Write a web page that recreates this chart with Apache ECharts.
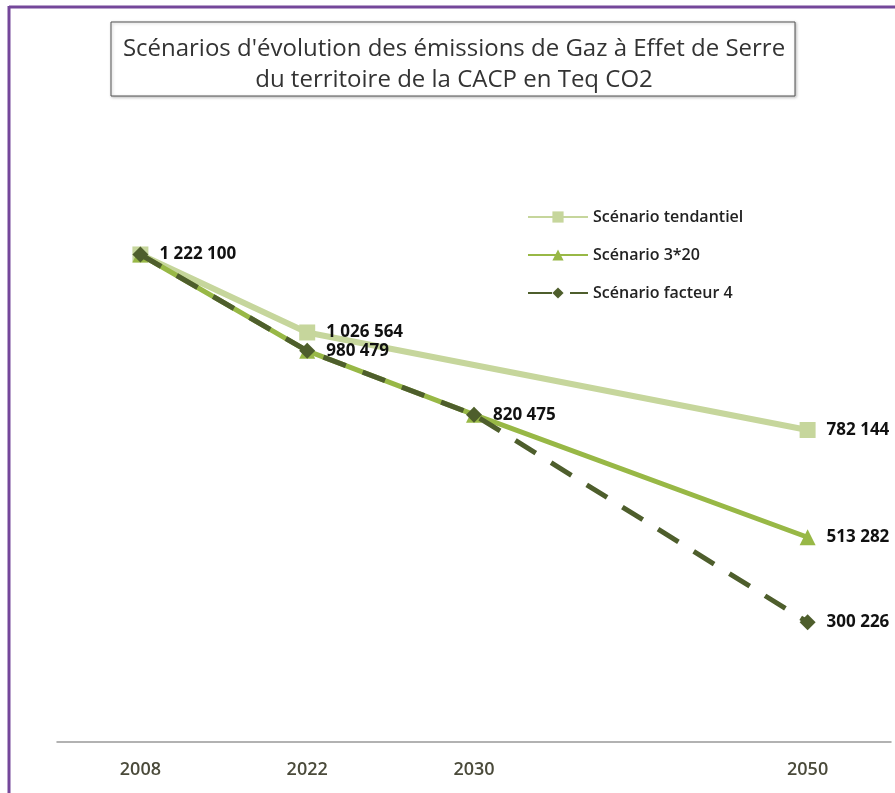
<!DOCTYPE html>
<html>
<head>
<meta charset="utf-8">
<script src="https://cdn.jsdelivr.net/npm/echarts@6/dist/echarts.min.js"></script>
<style>
html,body{margin:0;padding:0;background:#fff;}
#chart{width:895px;height:793px;}
</style>
</head>
<body>
<div id="chart"></div>
<script>
const categories = ['2008', '2022', '2030', '', '2050'];
const tendantiel = [1222100, 1026564, null, null, 782144];
const scenario320 = [1222100, 980479, 820475, null, 513282];
const facteur4 = [1222100, 980479, 820475, null, 300226];
const seriesNames = ['Scénario tendantiel', 'Scénario 3*20', 'Scénario facteur 4'];
const titleLines = ["Scénarios d'évolution des émissions de Gaz à Effet de Serre", 'du territoire de la CACP en Teq CO2'];
// which points carry a value label
const labelIdx = [[1, 4], [0, 1, 2, 4], [4]];

function fmt(v) {
  return String(v).replace(/\B(?=(\d{3})+(?!\d))/g, ' ');
}
function build(values, idx) {
  return values.map((v, i) => ({ value: v, label: { show: idx.indexOf(i) >= 0 && v != null } }));
}

const chart = echarts.init(document.getElementById('chart'));
const labelStyle = {
  position: 'right', distance: 11, color: '#111', fontFamily: 'Open Sans',
  fontWeight: 'bold', fontSize: 17, formatter: p => fmt(p.value)
};
chart.setOption({
  backgroundColor: '#ffffff',
  animation: false,
  graphic: [
    { type: 'line', shape: { x1: 9, y1: 7, x2: 895, y2: 7 }, style: { stroke: '#74479a', lineWidth: 3 } },
    { type: 'line', shape: { x1: 9, y1: 6, x2: 9, y2: 793 }, style: { stroke: '#74479a', lineWidth: 3 } },
    { type: 'rect', shape: { x: 111, y: 22, width: 684, height: 74 },
      style: { fill: '#fff', stroke: '#555', lineWidth: 1, shadowBlur: 3, shadowColor: 'rgba(0,0,0,0.25)', shadowOffsetX: 1, shadowOffsetY: 1 } }
  ],
  title: {
    text: titleLines.join('\n'),
    left: 449, top: 29, textAlign: 'center',
    textStyle: { fontFamily: 'Open Sans', fontWeight: 'normal', fontSize: 24, color: '#333', lineHeight: 31 }
  },
  legend: {
    orient: 'vertical', left: 522, top: 204, itemWidth: 60, itemHeight: 14, itemGap: 22,
    textStyle: { fontFamily: 'Open Sans', fontSize: 16, fontWeight: 600, color: '#222' },
    data: seriesNames
  },
  grid: { left: 57, right: 4, top: 183.5, bottom: 51 },
  xAxis: {
    type: 'category', data: categories, boundaryGap: true,
    axisLine: { lineStyle: { color: '#999', width: 1.5 } },
    axisTick: { show: false },
    axisLabel: { margin: 19, fontFamily: 'Open Sans', fontSize: 18, fontWeight: 600, color: '#4a4a3a',
      interval: 0 }
  },
  yAxis: { type: 'value', min: 0, max: 1400000, show: false, splitLine: { show: false } },
  series: [
    { name: seriesNames[0], type: 'line', connectNulls: true, data: build(tendantiel, labelIdx[0]),
      symbol: 'rect', symbolSize: 16, itemStyle: { color: '#c6d69c' },
      lineStyle: { color: '#c6d69c', width: 6 }, label: labelStyle, z: 2 },
    { name: seriesNames[1], type: 'line', connectNulls: true, data: build(scenario320, labelIdx[1]),
      symbol: 'triangle', symbolSize: 16, itemStyle: { color: '#98b846' },
      lineStyle: { color: '#98b846', width: 5 }, label: labelStyle, z: 3 },
    { name: seriesNames[2], type: 'line', connectNulls: true, data: build(facteur4, labelIdx[2]),
      symbol: 'diamond', symbolSize: 16, itemStyle: { color: '#4e5e2c' },
      lineStyle: { color: '#4e5e2c', width: 5, type: [24, 18] }, label: labelStyle, z: 4 }
  ]
});
</script>
</body>
</html>
